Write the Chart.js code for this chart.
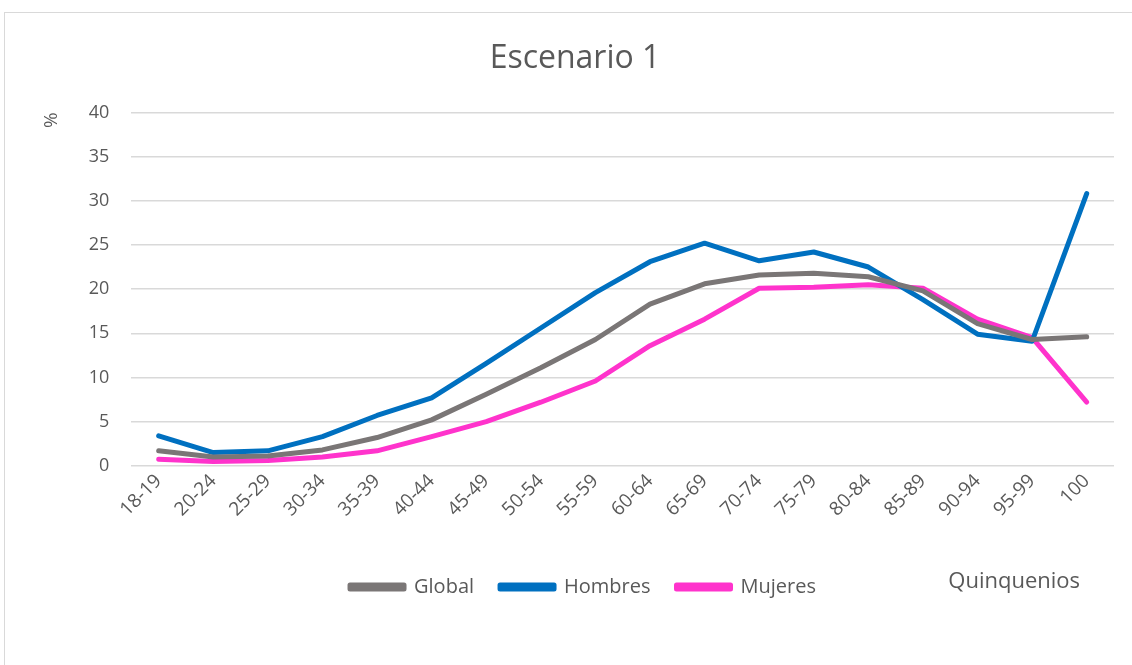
<!DOCTYPE html>
<html>
<head>
<meta charset="utf-8">
<title>Escenario 1</title>
<script src="https://cdn.jsdelivr.net/npm/chart.js@4"></script>
<style>
  body { margin: 0; background: #fff; overflow: hidden; }
  .frame { position: absolute; left: 4px; top: 12px; width: 1140px; height: 700px; border: 1px solid #d9d9d9; }
  #chart { position: absolute; left: 0; top: 0; }
</style>
</head>
<body>
<div class="frame"></div>
<canvas id="chart" width="1132" height="665"></canvas>
<script>
const quinquenios = ['18-19', '20-24', '25-29', '30-34', '35-39', '40-44', '45-49', '50-54', '55-59',
  '60-64', '65-69', '70-74', '75-79', '80-84', '85-89', '90-94', '95-99', '100'];
const global = [1.7, 1.0, 1.1, 1.8, 3.2, 5.2, 8.1, 11.1, 14.3, 18.3, 20.6, 21.6, 21.8, 21.4, 19.8, 16.1, 14.3, 14.6];
const hombres = [3.4, 1.5, 1.7, 3.3, 5.7, 7.7, 11.6, 15.6, 19.6, 23.1, 25.2, 23.2, 24.2, 22.5, 18.8, 14.9, 14.1, 30.8];
const mujeres = [0.75, 0.5, 0.6, 1.0, 1.7, 3.3, 5.0, 7.2, 9.6, 13.6, 16.6, 20.1, 20.2, 20.5, 20.1, 16.6, 14.5, 7.2];
const yTicks = [0, 5, 10, 15, 20, 25, 30, 35, 40];

const FONT = "'Open Sans', sans-serif";
const GREY_TEXT = '#595959';
const GRID = '#d9d9d9';

// x-axis caption shares the legend's row, right side; legend nudged right a bit
const xCaption = {
  id: 'xCaption',
  afterLayout(chart) {
    chart.legend.left += 8;
    chart.legend.right += 8;
  },
  afterDraw(chart) {
    const { ctx, chartArea, legend } = chart;
    ctx.save();
    ctx.font = '22px ' + FONT;
    ctx.fillStyle = GREY_TEXT;
    ctx.textAlign = 'right';
    ctx.textBaseline = 'middle';
    ctx.fillText('Quinquenios', chartArea.right - 34, legend.top + legend.height / 2 + 3);
    ctx.restore();
  }
};

const line = (label, data, color) => ({
  label, data,
  borderColor: color,
  backgroundColor: color,
  borderWidth: 5,
  pointRadius: 0,
  tension: 0,
  borderCapStyle: 'round',
  borderJoinStyle: 'round'
});

new Chart(document.getElementById('chart'), {
  type: 'line',
  data: {
    labels: quinquenios,
    datasets: [
      line('Global', global, '#7a7676'),
      line('Hombres', hombres, '#0070c0'),
      line('Mujeres', mujeres, '#ff33cc')
    ]
  },
  options: {
    responsive: false,
    animation: false,
    layout: { padding: { left: 36, right: 18, top: 40, bottom: 58 } },
    plugins: {
      title: {
        display: true,
        text: 'Escenario 1',
        color: GREY_TEXT,
        font: { family: FONT, size: 32, weight: 'normal' },
        padding: { top: 0, bottom: 34 }
      },
      legend: {
        position: 'bottom',
        labels: {
          color: GREY_TEXT,
          font: { family: FONT, size: 20 },
          boxWidth: 54,
          boxHeight: 4,
          padding: 26
        }
      },
      tooltip: { enabled: false }
    },
    scales: {
      x: {
        offset: true,
        grid: { display: false, drawTicks: false },
        border: { display: false },
        ticks: {
          color: GREY_TEXT,
          font: { family: FONT, size: 19 },
          maxRotation: 45,
          minRotation: 45,
          padding: 4,
          autoSkip: false
        },
        afterFit(axis) { axis.height += 26; }
      },
      y: {
        min: 0,
        max: 40,
        afterBuildTicks(axis) { axis.ticks = yTicks.map(v => ({ value: v })); },
        grid: { color: GRID, lineWidth: 1.5, drawTicks: false },
        border: { display: false },
        ticks: {
          color: GREY_TEXT,
          font: { family: FONT, size: 18 },
          padding: 22
        },
        title: {
          display: true,
          text: '%',
          align: 'end',
          color: GREY_TEXT,
          font: { family: FONT, size: 19 },
          padding: { bottom: 4 }
        }
      }
    }
  },
  plugins: [xCaption]
});
</script>
</body>
</html>
